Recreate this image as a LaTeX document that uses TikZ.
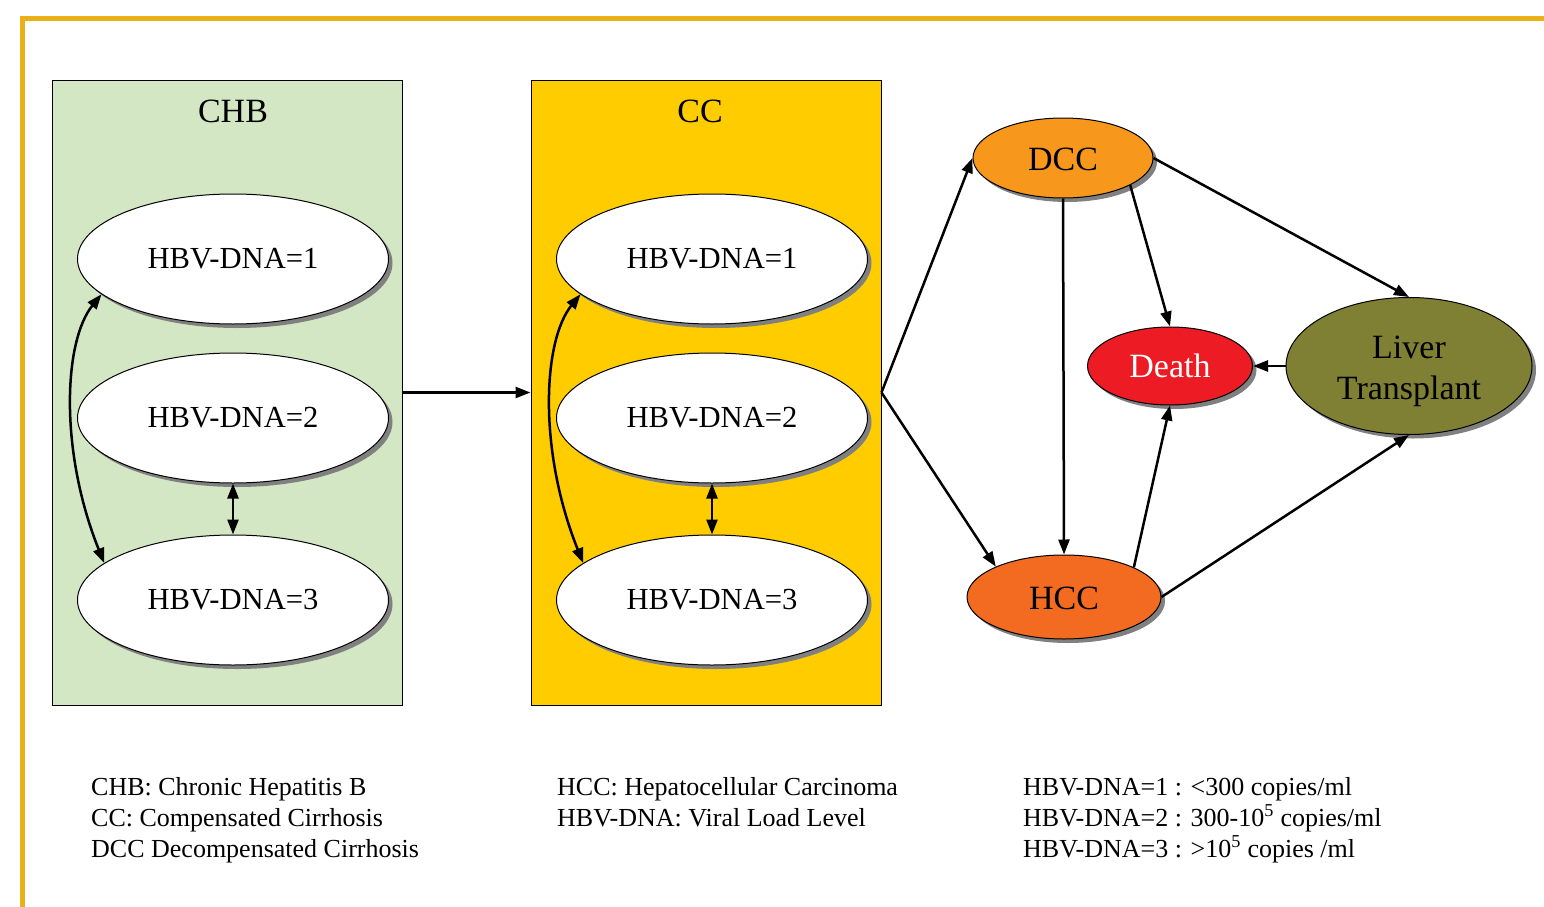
\documentclass[tikz,border=0pt]{standalone}
\usepackage{fontspec}
\setmainfont{Liberation Serif}
\usetikzlibrary{arrows.meta,shapes.geometric,shadows}
\definecolor{framecol}{HTML}{E9B116}
\definecolor{chbfill}{HTML}{D3E7C5}
\definecolor{ccfill}{HTML}{FFCC00}
\definecolor{dccfill}{HTML}{F7981D}
\definecolor{hccfill}{HTML}{F26B21}
\definecolor{deathfill}{HTML}{ED1C24}
\definecolor{ltfill}{HTML}{808034}
\tikzset{
  shad/.style={drop shadow={shadow xshift=4pt,shadow yshift=-4pt,fill=black!50,opacity=1}},
  stagebox/.style={draw=black,line width=1pt},
  hbv/.style={ellipse,draw=black,line width=1pt,fill=white,shad,minimum width=311pt,minimum height=130pt,inner sep=0pt,font=\fontsize{30.6}{36}\selectfont},
  statenode/.style={ellipse,draw=black,line width=1pt,shad,inner sep=0pt,font=\fontsize{34}{41}\selectfont},
  conn/.style={line width=2.5pt,-{Triangle[length=15pt,width=11pt]}},
  dconn/.style={line width=2.5pt,{Triangle[length=15pt,width=11pt]}-{Triangle[length=15pt,width=11pt]}},
  legend/.style={anchor=base west,inner sep=0pt,font=\fontsize{26}{31}\selectfont},
  boxtitle/.style={font=\fontsize{34}{40}\selectfont,inner sep=0pt}
}
\begin{document}
\begin{tikzpicture}[x=1pt,y=-1pt]
\useasboundingbox (0,0) rectangle (1544,907);
\draw[line width=5pt,framecol] (22.5,910) -- (22.5,18.5) -- (1548,18.5);
% boxes
\node[stagebox,fill=chbfill,minimum width=350pt,minimum height=625pt,inner sep=0pt] (chb) at (227,392.5) {};
\node[stagebox,fill=ccfill,minimum width=350pt,minimum height=625pt,inner sep=0pt] (cc) at (706,392.5) {};
\node[boxtitle] (chbt) at (233,111) {CHB};
\node[boxtitle] (cct) at (700,111) {CC};
% CHB ellipses
\node[hbv] (a1) at (233,259) {HBV-DNA=1};
\node[hbv] (a2) at (233,418) {HBV-DNA=2};
\node[hbv] (a3) at (233,600) {HBV-DNA=3};
% CC ellipses
\node[hbv] (b1) at (712,259) {HBV-DNA=1};
\node[hbv] (b2) at (712,418) {HBV-DNA=2};
\node[hbv] (b3) at (712,600) {HBV-DNA=3};
% right states
\node[statenode,fill=dccfill,minimum width=180pt,minimum height=80pt] (dcc) at (1063,158) {\rule{0pt}{26pt}DCC};
\node[statenode,fill=hccfill,minimum width=194pt,minimum height=84pt] (hcc) at (1064,597) {\rule{0pt}{26pt}HCC};
\node[statenode,fill=deathfill,text=white,minimum width=165pt,minimum height=78pt] (death) at (1170,366) {Death};
\node[statenode,fill=ltfill,minimum width=246pt,minimum height=137pt,align=center] (lt) at (1409,366) {\rule{0pt}{33pt}Liver\\Transplant};
% connectors inside boxes
\draw[dconn] (a2.south) -- (a3.north);
\draw[dconn] (b2.south) -- (b3.north);
\draw[dconn] (a1.195) .. controls +(-38,47) and +(-45,-112) .. (a3.164);
\draw[dconn] (b1.195) .. controls +(-38,47) and +(-45,-112) .. (b3.164);
% box to box
\draw[conn] (chb.east) -- (cc.west);
\draw[conn] (cc.east) -- (dcc.west);
\draw[conn] (cc.east) -- (hcc.156);
% right graph
\draw[conn] (dcc.south) -- (hcc.north);
\draw[conn] (dcc.-22.5) -- (death.north);
\draw[conn] (dcc.east) -- (lt.north);
\draw[conn] (hcc.23.5) -- (death.south);
\draw[conn] (hcc.east) -- (lt.south);
\draw[conn] (lt.west) -- (death.east);
% legend
\node[legend] (l1) at (91,795) {CHB: Chronic Hepatitis B};
\node[legend] (l2) at (91,826) {CC: Compensated Cirrhosis};
\node[legend] (l3) at (91,857) {DCC Decompensated Cirrhosis};
\node[legend] (l4) at (557,795) {HCC: Hepatocellular Carcinoma};
\node[legend] (l5) at (557,826) {HBV-DNA: Viral Load Level};
\node[legend] (l6) at (1023,795) {HBV-DNA=1 : <300 copies/ml};
\node[legend] (l7) at (1023,826) {HBV-DNA=2 : 300-10\textsuperscript{5} copies/ml};
\node[legend] (l8) at (1023,857) {HBV-DNA=3 : >10\textsuperscript{5} copies /ml};
\end{tikzpicture}
\end{document}
